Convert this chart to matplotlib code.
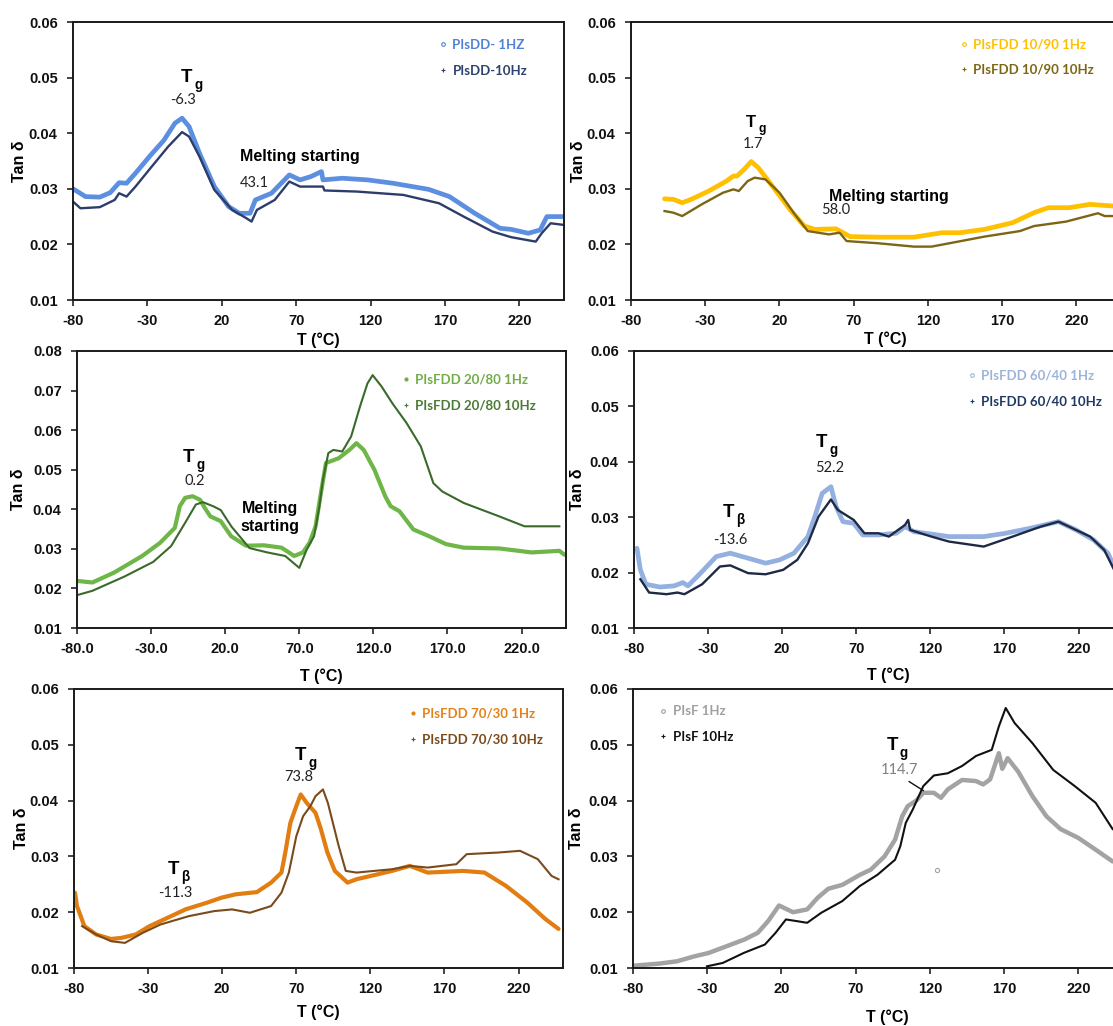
import matplotlib.pyplot as plt
from matplotlib.lines import Line2D
from matplotlib.ticker import FormatStrFormatter, MultipleLocator

plt.rcParams['font.family'] = ['Liberation Sans', 'DejaVu Sans']
NUM_FONT = ['Lato', 'DejaVu Sans']

# ---- PIsDD ----
dd_T_1 = [-80, -71.6, -62, -55, -49, -44, -38, -28, -19, -11.5, -6.7, -2, 5, 15, 24.6, 31.8, 39, 42.6,
          53.4, 65.4, 72.6, 79.9, 87, 88, 101, 118, 135, 159, 173, 190, 207, 214.5, 226, 234, 238.5, 250]
dd_tan_1 = [0.030, 0.0286, 0.0285, 0.0293, 0.0311, 0.031, 0.0328, 0.036, 0.0387, 0.0418, 0.0427, 0.0412,
            0.0364, 0.0304, 0.0268, 0.0256, 0.0256, 0.028, 0.0292, 0.0325, 0.0316, 0.0322, 0.0331, 0.0316,
            0.0319, 0.0316, 0.031, 0.0299, 0.0286, 0.0256, 0.0229, 0.0227, 0.022, 0.0226, 0.025, 0.025]
dd_T_10 = [-80, -75, -62, -52, -49, -44, -38, -28, -16, -6.7, -2, 5, 15, 27, 36.6, 40, 43.6, 55.6, 65.4,
           72.6, 82, 88, 89, 111, 142, 166, 182.6, 202, 214.5, 231, 235, 241, 250]
dd_tan_10 = [0.0277, 0.0265, 0.0267, 0.028, 0.0292, 0.0286, 0.0304, 0.0337, 0.0376, 0.0402, 0.0394,
             0.0358, 0.0298, 0.0262, 0.0247, 0.0241, 0.0262, 0.028, 0.0313, 0.0304, 0.0304, 0.0304,
             0.0297, 0.0295, 0.0289, 0.0274, 0.025, 0.0223, 0.0213, 0.0205, 0.022, 0.0238, 0.0235]

# ---- PIsFDD 10/90 ----
f10_T_1 = [-57.4, -51.4, -45.5, -39.5, -27.6, -15.7, -11, -8.6, -3.8, 1, 5.7, 15.2, 27, 36.7, 43.8, 58,
           62.8, 67.6, 86.7, 110.5, 129.5, 141.4, 158, 177, 191.4, 201, 215, 229, 250]
f10_tan_1 = [0.0282, 0.0281, 0.0275, 0.0281, 0.0296, 0.0314, 0.0323, 0.0323, 0.0335, 0.0349, 0.0338,
             0.0305, 0.0263, 0.0233, 0.0227, 0.0228, 0.0221, 0.0214, 0.0213, 0.0213, 0.0221, 0.0221,
             0.0227, 0.0239, 0.0257, 0.0266, 0.0266, 0.0272, 0.0268]
f10_T_10 = [-57.4, -51.4, -45.5, -32.4, -18, -11, -7.4, -1.4, 3.3, 10.5, 20, 29.5, 39, 53.3, 60.5, 65.2,
            86.7, 110.5, 122.4, 134.3, 158, 182, 191.4, 213, 234.5, 239, 250]
f10_tan_10 = [0.026, 0.0257, 0.0251, 0.0272, 0.0293, 0.0299, 0.0296, 0.0314, 0.032, 0.0317, 0.0293,
              0.0257, 0.0224, 0.0218, 0.0221, 0.0206, 0.0202, 0.0196, 0.0196, 0.0202, 0.0214, 0.0224,
              0.0233, 0.0241, 0.0256, 0.0251, 0.0251]

# ---- PIsFDD 20/80 ----
f20_T_1 = [-80, -69.6, -55, -36, -24, -14, -10.6, -7, -2, 3, 6.3, 10, 17, 24, 34, 46, 58, 63, 66.5, 72.5,
           77, 81, 84.6, 88, 96.6, 103.8, 108.6, 113.5, 120.7, 128, 131.6, 137.6, 147, 157, 169, 181, 205,
           226.8, 245.5, 249]
f20_tan_1 = [0.0219, 0.0215, 0.024, 0.0282, 0.0315, 0.0353, 0.0408, 0.0429, 0.0433, 0.0424, 0.0403,
             0.0382, 0.037, 0.0332, 0.0308, 0.0309, 0.0303, 0.0291, 0.0282, 0.0291, 0.0316, 0.0357,
             0.0441, 0.0517, 0.0529, 0.055, 0.0567, 0.055, 0.05, 0.0433, 0.0408, 0.0395, 0.0349, 0.0333,
             0.0312, 0.0303, 0.0301, 0.0291, 0.0295, 0.0285]
f20_T_10 = [-80, -69.6, -48, -28.6, -16.5, -7, 0.2, 5, 12.3, 17, 24.3, 36.4, 48.4, 60.5, 70, 75, 80, 83.6,
            86, 89.6, 93, 99, 105, 111, 116, 119.5, 125.6, 132.8, 142.4, 152, 160.5, 166.5, 181, 205, 222,
            245.5]
f20_tan_10 = [0.0183, 0.0194, 0.023, 0.0267, 0.0307, 0.0366, 0.0412, 0.0418, 0.0407, 0.0398, 0.0356,
              0.0302, 0.0291, 0.0282, 0.0252, 0.0298, 0.0332, 0.0408, 0.0475, 0.0542, 0.055, 0.0546,
              0.0584, 0.066, 0.0718, 0.0739, 0.071, 0.0668, 0.0618, 0.0559, 0.0466, 0.0445, 0.0416,
              0.0382, 0.0357, 0.0357]

# ---- PIsFDD 60/40 ----
f60_T_1 = [-78, -75.7, -72, -62.6, -53, -47, -43.6, -34, -24.5, -15, -3, 8.8, 18.3, 27.9, 37.4, 42, 47,
           52.9, 56.4, 61, 68.3, 74.3, 85, 97, 102.9, 105, 108.8, 132.6, 156, 170.7, 187.4, 206.4, 218.3,
           230.2, 239.8, 244, 250]
f60_tan_1 = [0.0244, 0.0205, 0.0179, 0.0174, 0.0176, 0.0182, 0.0176, 0.0202, 0.0229, 0.0235, 0.0226,
             0.0217, 0.0223, 0.0235, 0.0265, 0.0301, 0.0343, 0.0355, 0.0319, 0.0292, 0.0289, 0.0268,
             0.0268, 0.0271, 0.0283, 0.028, 0.0274, 0.0265, 0.0265, 0.0271, 0.028, 0.0292, 0.0277,
             0.0259, 0.0235, 0.0211, 0.0195]
f60_T_10 = [-75.7, -69.8, -58, -50.7, -46, -34, -22, -15, -3, 8.8, 20.7, 30.2, 37.4, 44.5, 52.9, 57.6,
            68.3, 75.5, 85, 92, 102.9, 105, 106.4, 120.7, 132.6, 156, 175.5, 194.5, 206.4, 227.8, 237.3,
            244, 250]
f60_tan_10 = [0.0188, 0.0164, 0.0161, 0.0164, 0.0161, 0.0179, 0.0211, 0.0213, 0.0199, 0.0197, 0.0205,
              0.0223, 0.0253, 0.0301, 0.0332, 0.0313, 0.0295, 0.0271, 0.0271, 0.0265, 0.0286, 0.0295,
              0.0277, 0.0265, 0.0256, 0.0247, 0.0265, 0.0283, 0.0292, 0.0265, 0.0241, 0.0205, 0.019]

# ---- PIsFDD 70/30 ----
f70_T_1 = [-79.3, -78, -73, -65, -55, -48, -38.4, -29, -14.4, -4.8, 9.7, 19.5, 29, 43.4, 53, 60, 62.6,
           66, 70, 73, 77, 83, 86.6, 91, 96, 104.6, 110.6, 134.6, 146.6, 158.7, 182.7, 197, 211.6, 226,
           238, 247]
f70_tan_1 = [0.0235, 0.0211, 0.0175, 0.016, 0.0152, 0.0154, 0.016, 0.0175, 0.0193, 0.0205, 0.0217,
             0.0226, 0.0232, 0.0236, 0.0253, 0.0271, 0.0307, 0.036, 0.039, 0.0411, 0.0396, 0.0378,
             0.0349, 0.0307, 0.0274, 0.0253, 0.0259, 0.0274, 0.0283, 0.0271, 0.0274, 0.0271, 0.0247,
             0.0217, 0.0188, 0.017]
f70_T_10 = [-74.5, -65, -55, -45.6, -33.6, -21.6, -2.4, 14.7, 26.7, 38.7, 53, 60, 65, 70, 74.6, 79.5, 83,
            88, 91.3, 98.6, 103.4, 110.6, 134.6, 146.6, 158.7, 178, 185, 206.7, 221, 233, 242.3, 247]
f70_tan_10 = [0.0175, 0.016, 0.0148, 0.0145, 0.0163, 0.0178, 0.0193, 0.0202, 0.0205, 0.0199, 0.0211,
              0.0235, 0.0271, 0.0336, 0.0372, 0.039, 0.0408, 0.042, 0.0396, 0.0319, 0.0274, 0.0271,
              0.0277, 0.0283, 0.028, 0.0286, 0.0304, 0.0307, 0.031, 0.0295, 0.0265, 0.0259]

# ---- PIsF ----
sf_T_1 = [-80, -62, -50.4, -38.5, -29, -17, -5, 4, 11, 18.3, 27.8, 37.3, 44.4, 51.5, 61, 72.8, 80, 89.4,
          96.5, 101.3, 105, 110.8, 115.5, 122.6, 127.4, 132, 141.6, 151, 155.8, 160.5, 166.4, 168.7,
          172.3, 179.4, 189, 198.4, 207.9, 220, 231.6, 243]
sf_tan_1 = [0.0104, 0.0108, 0.0112, 0.0121, 0.0127, 0.0139, 0.0151, 0.0163, 0.0184, 0.0212, 0.02, 0.0205,
            0.0226, 0.0242, 0.0249, 0.0267, 0.0276, 0.03, 0.033, 0.0372, 0.039, 0.04, 0.0414, 0.0414,
            0.0405, 0.042, 0.0437, 0.0435, 0.0429, 0.0438, 0.0485, 0.0457, 0.0476, 0.0452, 0.0408,
            0.0372, 0.0349, 0.0333, 0.0312, 0.0291]
sf_T_out = [124.5]
sf_tan_out = [0.0276]
sf_T_10 = [-30.2, -19.6, -5.4, 8.8, 16, 23, 30.3, 37.3, 46.8, 61, 72.8, 84.6, 96.5, 100, 103.7, 108.4,
           115.5, 122.6, 132, 141.6, 151, 161.6, 166.4, 171, 177, 189, 203, 217.5, 231.6, 243]
sf_tan_10 = [0.0103, 0.0109, 0.0127, 0.0142, 0.0163, 0.0187, 0.0184, 0.0181, 0.0199, 0.022, 0.0247,
             0.0267, 0.0294, 0.0318, 0.036, 0.0384, 0.0426, 0.0445, 0.0449, 0.0462, 0.048, 0.0491, 0.0533,
             0.0566, 0.0539, 0.0503, 0.0455, 0.0426, 0.0396, 0.0349]

T_TICKS = [-80, -30, 20, 70, 120, 170, 220]

W, H = 1113, 1026


def frame(x0, x1, ytop, ybot):
    return [x0 / W, (H - ybot) / H, (x1 - x0) / W, (ybot - ytop) / H]


def style_axes(ax, ymax, xfmt='%g', ylab_x=-0.108, xlab=(0.5, -0.145)):
    ax.set_xlim(-80, 250)
    ax.set_ylim(0.01, ymax)
    ax.set_xticks(T_TICKS)
    ax.yaxis.set_major_locator(MultipleLocator(0.01))
    ax.xaxis.set_major_formatter(FormatStrFormatter(xfmt))
    ax.yaxis.set_major_formatter(FormatStrFormatter('%.2f'))
    ax.tick_params(direction='out', length=4, width=1.1, labelsize=10.5, colors='#111111')
    ax.tick_params(axis='x', pad=6)
    ax.tick_params(axis='y', pad=7)
    for t in ax.get_xticklabels() + ax.get_yticklabels():
        t.set_fontweight('bold')
    for s in ax.spines.values():
        s.set_linewidth(1.4)
        s.set_color('#1a1a1a')
    ax.set_xlabel('T (°C)', fontsize=11.5, fontweight='bold', va='center')
    ax.set_ylabel('Tan δ', fontsize=11.5, fontweight='bold', va='center')
    ax.xaxis.set_label_coords(*xlab)
    ax.yaxis.set_label_coords(ylab_x, 0.5)


def tlabel(ax, x, y, sub, size=13.5):
    ax.text(x, y, 'T', ha='center', va='center', fontsize=size, fontweight='bold')
    ax.annotate(sub, (x, y), xytext=(size * 0.42, -size * 0.4), textcoords='offset points',
                ha='left', va='center', fontsize=size * 0.72, fontweight='bold')


def num(ax, x, y, s, color='#222222'):
    ax.text(x, y, s, ha='center', va='center', fontsize=10.5, family=NUM_FONT, color=color)


def legend(ax, labels, colors, markers, anchor):
    handles = [Line2D([], [], ls='none', marker=m, ms=ms, mew=0.8, color=c, mfc=fc)
               for (m, ms, fc), c in zip(markers, colors)]
    ax.legend(handles, labels, loc='upper left', bbox_to_anchor=anchor, frameon=False,
              handlelength=0.6, handletextpad=0.4, labelspacing=1.05, borderpad=0,
              borderaxespad=0, labelcolor=colors,
              prop={'family': NUM_FONT, 'weight': 'bold', 'size': 9.5})


OPEN = ('o', 2.6, 'none')
DOT = ('o', 2.2, None)
PLUS = ('+', 3.0, None)

fig = plt.figure(figsize=(W / 100, H / 100), dpi=100)

# PIsDD
ax = fig.add_axes(frame(73, 564, 22, 300))
c1, c10 = '#5d8fe0', '#2c3d6b'
ax.plot(dd_T_1, dd_tan_1, color=c1, lw=3.4, solid_capstyle='round')
ax.plot(dd_T_10, dd_tan_10, color=c10, lw=1.7)
style_axes(ax, 0.06)
tlabel(ax, -3.8, 0.0501, 'g')
num(ax, -6.2, 0.046, '-6.3')
ax.text(72.6, 0.0358, 'Melting starting', ha='center', va='center', fontsize=11.5, fontweight='bold')
num(ax, 41.9, 0.031, '43.1')
legend(ax, ['PIsDD- 1HZ', 'PIsDD-10Hz'], ['#4f82d8', '#2b4170'], [OPEN, PLUS], (0.746, 0.94))

# PIsFDD 10/90
ax = fig.add_axes(frame(631, 1121, 22, 300))
c1, c10 = '#ffc000', '#7d6514'
ax.plot(f10_T_1, f10_tan_1, color=c1, lw=3.4, solid_capstyle='round')
ax.plot(f10_T_10, f10_tan_10, color=c10, lw=1.7)
style_axes(ax, 0.06, xlab=(0.52, -0.14))
tlabel(ax, 1.0, 0.0419, 'g', size=12)
num(ax, 2.1, 0.038, '1.7')
ax.text(93.8, 0.0286, 'Melting starting', ha='center', va='center', fontsize=11.5, fontweight='bold')
num(ax, 58.1, 0.0261, '58.0')
legend(ax, ['PIsFDD 10/90 1Hz', 'PIsFDD 10/90 10Hz'], ['#ffc000', '#7d6514'], [OPEN, PLUS],
       (0.671, 0.942))

# PIsFDD 20/80
ax = fig.add_axes(frame(77, 566, 351, 628))
c1, c10 = '#6fb648', '#3a6a2a'
ax.plot(f20_T_1, f20_tan_1, color=c1, lw=3.0, solid_capstyle='round')
ax.plot(f20_T_10, f20_tan_10, color=c10, lw=1.5)
style_axes(ax, 0.08, xfmt='%.1f', ylab_x=-0.12, xlab=(0.5, -0.173))
tlabel(ax, -4.6, 0.0532, 'g')
num(ax, -0.2, 0.0472, '0.2')
ax.text(50.5, 0.0379, 'Melting\nstarting', ha='center', va='center', fontsize=11.5,
        fontweight='bold', linespacing=1.25)
legend(ax, ['PIsFDD 20/80 1Hz', 'PIsFDD 20/80 10Hz'], ['#70ad47', '#4a7a35'], [DOT, PLUS],
       (0.664, 0.918))

# PIsFDD 60/40
ax = fig.add_axes(frame(634, 1123, 351, 628))
c1, c10 = '#94b0e0', '#1e2a45'
ax.plot(f60_T_1, f60_tan_1, color=c1, lw=3.4, solid_capstyle='round')
ax.plot(f60_T_10, f60_tan_10, color=c10, lw=1.7)
style_axes(ax, 0.06, ylab_x=-0.116, xlab=(0.52, -0.17))
tlabel(ax, -16.2, 0.0308, 'β')
num(ax, -15, 0.0258, '-13.6')
tlabel(ax, 46.4, 0.0434, 'g')
num(ax, 52.1, 0.0389, '52.2')
legend(ax, ['PIsFDD 60/40 1Hz', 'PIsFDD 60/40 10Hz'], ['#9db4da', '#203864'], [OPEN, PLUS],
       (0.683, 0.932))

# PIsFDD 70/30
ax = fig.add_axes(frame(74, 563, 689, 968))
c1, c10 = '#e27d12', '#7a4a1c'
ax.plot(f70_T_1, f70_tan_1, color=c1, lw=3.0, solid_capstyle='round')
ax.plot(f70_T_10, f70_tan_10, color=c10, lw=1.5)
style_axes(ax, 0.06, xlab=(0.5, -0.158))
tlabel(ax, -12.7, 0.0277, 'β')
num(ax, -11.5, 0.0235, '-11.3')
tlabel(ax, 72.9, 0.048, 'g')
num(ax, 71.7, 0.0443, '73.8')
legend(ax, ['PIsFDD 70/30 1Hz', 'PIsFDD 70/30 10Hz'], ['#e2821a', '#7a4a1a'], [DOT, PLUS],
       (0.685, 0.934))

# PIsF
ax = fig.add_axes(frame(633, 1123, 689, 968))
c1, c10 = '#a3a3a3', '#111111'
ax.plot(sf_T_1, sf_tan_1, color=c1, lw=3.2, solid_capstyle='round')
ax.plot(sf_T_out, sf_tan_out, ls='none', marker='o', ms=3, mfc='none', mec=c1, mew=0.8)
ax.plot(sf_T_10, sf_tan_10, color=c10, lw=1.5)
style_axes(ax, 0.06, ylab_x=-0.116, xlab=(0.52, -0.176))
tlabel(ax, 94.5, 0.0499, 'g')
num(ax, 99.4, 0.0455, '114.7', color='#808080')
ax.plot([106, 115.5], [0.0434, 0.0418], color='#111111', lw=1.0)
legend(ax, ['PIsF 1Hz', 'PIsF 10Hz'], ['#a0a0a0', '#111111'], [OPEN, PLUS], (0.054, 0.942))

fig.savefig('out.png', dpi=100, facecolor='white')
